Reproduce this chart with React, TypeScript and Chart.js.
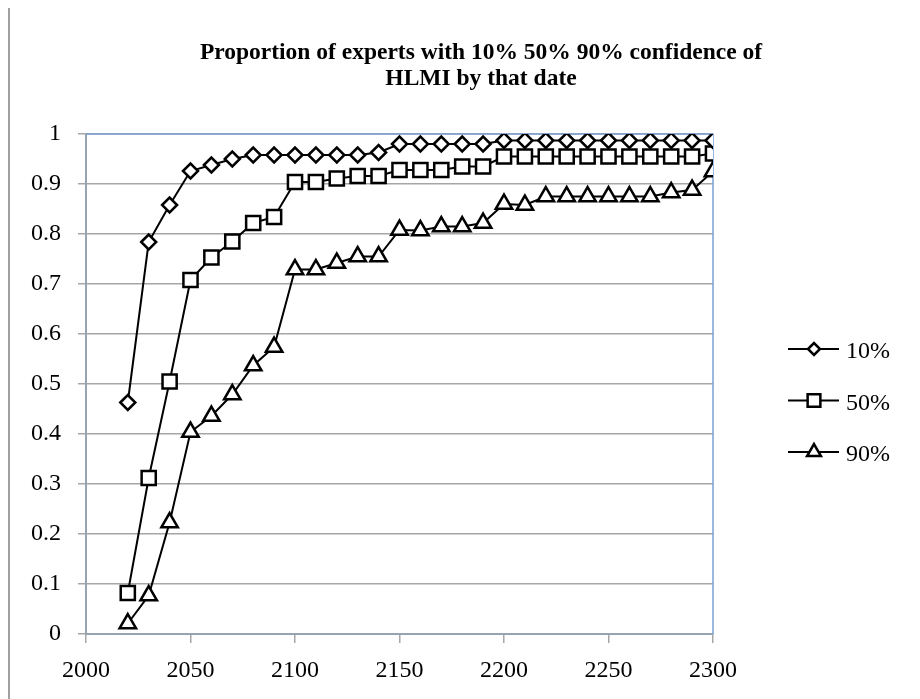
import React, { useEffect, useRef } from 'react';
import { Chart, registerables } from 'chart.js';
import { drawPoint } from 'chart.js/helpers';

Chart.register(...registerables);

const years = [2020, 2030, 2040, 2050, 2060, 2070, 2080, 2090, 2100, 2110, 2120, 2130, 2140, 2150, 2160, 2170, 2180, 2190, 2200, 2210, 2220, 2230, 2240, 2250, 2260, 2270, 2280, 2290, 2300];

const p10 = [0.463, 0.784, 0.858, 0.926, 0.938, 0.95, 0.958, 0.958, 0.958, 0.958, 0.958, 0.958, 0.963, 0.98, 0.98, 0.98, 0.98, 0.98, 0.987, 0.987, 0.987, 0.987, 0.987, 0.987, 0.987, 0.987, 0.987, 0.987, 0.987];
const p50 = [0.082, 0.312, 0.505, 0.708, 0.753, 0.785, 0.822, 0.834, 0.904, 0.904, 0.911, 0.916, 0.916, 0.928, 0.928, 0.928, 0.935, 0.935, 0.955, 0.955, 0.955, 0.955, 0.955, 0.955, 0.955, 0.955, 0.955, 0.955, 0.961];
const p90 = [0.021, 0.077, 0.223, 0.404, 0.436, 0.479, 0.537, 0.574, 0.729, 0.729, 0.742, 0.755, 0.755, 0.808, 0.807, 0.815, 0.815, 0.822, 0.86, 0.858, 0.875, 0.875, 0.875, 0.875, 0.875, 0.875, 0.883, 0.888, 0.925];

const seriesLabels = ['10%', '50%', '90%'];
const titleLines = ['Proportion of experts with 10% 50% 90% confidence of', 'HLMI by that date'];

const SERIF = '"Liberation Serif", "Times New Roman", serif';

export default function App() {
  const ref = useRef<HTMLCanvasElement>(null);

  useEffect(() => {
    if (!ref.current) return;
    const styles = [
      { style: 'rectRot', radius: 7.5, legendRadius: 6 },
      { style: 'rect', radius: 10, legendRadius: 9 },
      { style: 'triangle', radius: 9.5, legendRadius: 8 },
    ];
    const values = [p10, p50, p90];
    const datasets = values.map((vals, i) => ({
      label: seriesLabels[i],
      data: years.map((x, j) => ({ x, y: vals[j] })),
      borderColor: '#000',
      borderWidth: 2,
      pointStyle: styles[i].style,
      pointRadius: styles[i].radius,
      pointHoverRadius: styles[i].radius,
      pointBorderWidth: 2.5,
      pointBackgroundColor: '#fff',
      pointBorderColor: '#000',
      tension: 0,
      fill: false,
    }));

    const decor = {
      id: 'decor',
      beforeDatasetsDraw(chart: any) {
        const { ctx, chartArea: a } = chart;
        ctx.save();
        ctx.strokeStyle = '#7ba3d6';
        ctx.lineWidth = 1.5;
        ctx.beginPath();
        ctx.moveTo(a.left, a.top);
        ctx.lineTo(a.right, a.top);
        ctx.lineTo(a.right, a.bottom);
        ctx.stroke();
        ctx.restore();
      },
      afterDraw(chart: any) {
        const { ctx } = chart;
        ctx.save();
        // title
        ctx.fillStyle = '#000';
        ctx.font = `bold 23.5px ${SERIF}`;
        ctx.textAlign = 'center';
        ctx.textBaseline = 'alphabetic';
        ctx.fillText(titleLines[0], 471, 51);
        ctx.fillText(titleLines[1], 471, 77);
        // legend
        chart.data.datasets.forEach((ds: any, i: number) => {
          const y = 341 + i * 51.5;
          ctx.strokeStyle = '#000';
          ctx.lineWidth = 2;
          ctx.beginPath();
          ctx.moveTo(778, y);
          ctx.lineTo(829, y);
          ctx.stroke();
          ctx.fillStyle = '#fff';
          ctx.strokeStyle = '#000';
          ctx.lineWidth = 2.5;
          drawPoint(ctx, { pointStyle: styles[i].style, radius: styles[i].legendRadius, borderWidth: 2.5, rotation: 0 } as any, 804, y);
          ctx.fillStyle = '#000';
          ctx.font = `24px ${SERIF}`;
          ctx.textAlign = 'left';
          ctx.textBaseline = 'middle';
          ctx.fillText(ds.label, 836, y + 3);
        });
        ctx.restore();
      },
    };

    const chart = new Chart(ref.current, {
      type: 'line',
      data: { datasets: datasets as any },
      options: {
        animation: false,
        responsive: false,
        events: [],
        layout: { padding: { top: 126, right: 207, bottom: 5, left: 0 } },
        plugins: {
          legend: { display: false },
          title: { display: false },
          tooltip: { enabled: false },
        },
        scales: {
          x: {
            type: 'linear',
            min: 2000,
            max: 2300,
            afterFit: (s: any) => { s.height = 60; },
            ticks: {
              stepSize: 50,
              autoSkip: false,
              maxRotation: 0,
              color: '#000',
              font: { family: SERIF, size: 24 },
              padding: 13,
              callback: (v: any) => String(v),
            },
            grid: {
              display: true,
              drawOnChartArea: false,
              drawTicks: true,
              tickLength: 9,
              color: '#a6a6a6',
              lineWidth: 1.5,
            },
            border: { display: true, color: '#95a3b3', width: 2 },
          },
          y: {
            type: 'linear',
            min: 0,
            max: 1,
            afterFit: (s: any) => { s.width = 76; },
            ticks: {
              stepSize: 0.1,
              color: '#000',
              font: { family: SERIF, size: 24 },
              padding: 17,
              callback: (v: any) => String(Math.round(Number(v) * 10) / 10),
            },
            grid: {
              color: '#a6a6a6',
              lineWidth: 1.5,
              drawTicks: true,
              tickLength: 8,
            },
            border: { display: true, color: '#95a3b3', width: 2 },
          },
        },
      },
      plugins: [decor],
    });
    return () => chart.destroy();
  }, []);

  return (
    <div
      style={{
        marginTop: -2,
        width: 912,
        height: 693,
        borderLeft: '2px solid #a0a0a0',
        borderTop: '2px solid #a0a0a0',
        boxSizing: 'border-box',
        position: 'relative',
        overflow: 'hidden',
      }}
    >
      <canvas ref={ref} width={910} height={691} style={{ display: 'block' }} />
    </div>
  );
}
